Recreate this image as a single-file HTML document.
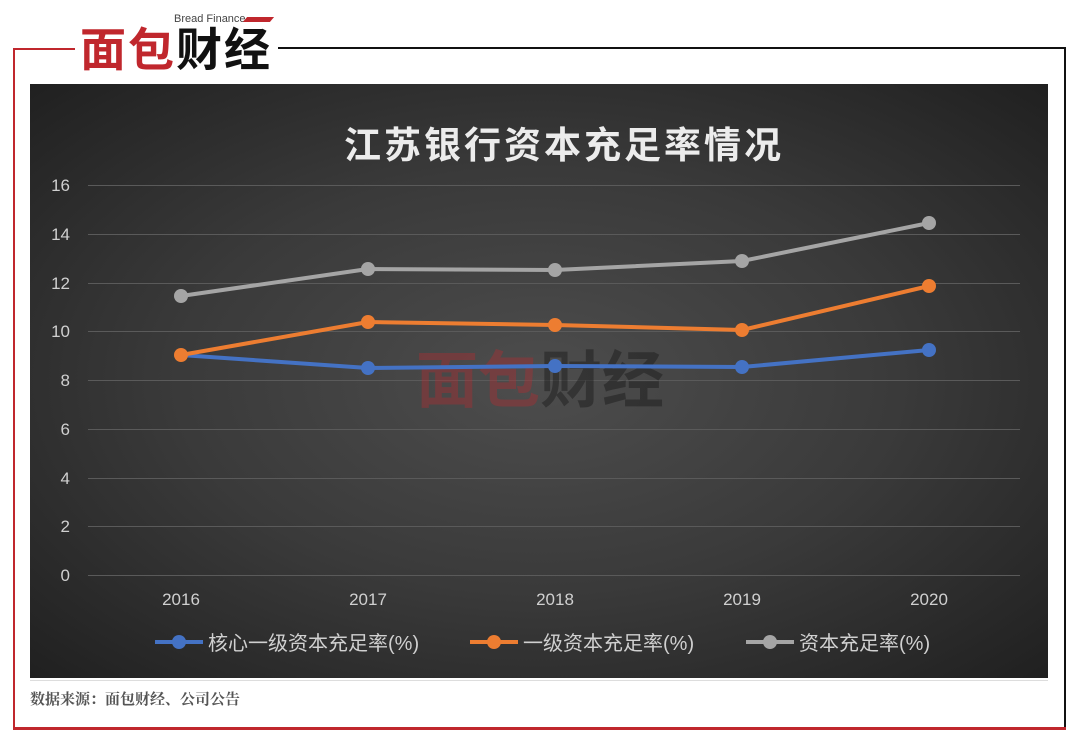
<!DOCTYPE html>
<html><head><meta charset="utf-8"><style>
body{margin:0;width:1080px;height:740px;background:#fff;position:relative;overflow:hidden;font-family:"Liberation Sans","Noto Sans CJK SC",sans-serif}
.a{position:absolute}
</style></head><body>
<div class="a" style="left:13px;top:48px;width:2px;height:681px;background:#c0272d"></div>
<div class="a" style="left:13px;top:48px;width:62px;height:2px;background:#c0272d"></div>
<div class="a" style="left:278px;top:47px;width:788px;height:2px;background:#111"></div>
<div class="a" style="left:1064px;top:47px;width:2px;height:682px;background:#111"></div>
<div class="a" style="left:13px;top:727px;width:1053px;height:3px;background:#c0272d"></div>
<div class="a" style="left:174px;top:13px;font-size:11px;color:#444">Bread Finance</div>
<div class="a" style="left:245px;top:17px;width:27px;height:5px;background:#c0272d;transform:skewX(-40deg)"></div>
<div class="a" style="left:80px;top:24px;font-size:46px;font-weight:bold;line-height:52px;letter-spacing:2px"><span style="color:#c0272d">面包</span><span style="color:#111">财经</span></div>
<div class="a" style="left:30px;top:84px;width:1018px;height:594px;background:radial-gradient(ellipse at 50% 50%,#4d4d4d 0%,#3a3a3a 50%,#202020 100%)"></div>
<div class="a" style="left:30px;top:680px;width:1018px;height:1px;background:#ddd"></div>
<div class="a" style="left:30px;top:688px;font-size:15px;font-weight:bold;color:#555;font-family:'Noto Serif CJK SC',serif">数据来源：面包财经、公司公告</div>
<svg class="a" style="left:0;top:0" width="1080" height="740">
<text x="564" y="158" fill="#ececec" font-size="37" font-weight="bold" text-anchor="middle" font-family="Liberation Sans,Noto Sans CJK SC,sans-serif" letter-spacing="3">江苏银行资本充足率情况</text>
<g stroke="#5a5a5a" stroke-width="1">
<line x1="88" x2="1020" y1="185.5" y2="185.5"/><line x1="88" x2="1020" y1="234.5" y2="234.5"/><line x1="88" x2="1020" y1="283.5" y2="283.5"/><line x1="88" x2="1020" y1="331.5" y2="331.5"/><line x1="88" x2="1020" y1="380.5" y2="380.5"/><line x1="88" x2="1020" y1="429.5" y2="429.5"/><line x1="88" x2="1020" y1="478.5" y2="478.5"/><line x1="88" x2="1020" y1="526.5" y2="526.5"/><line x1="88" x2="1020" y1="575.5" y2="575.5"/>
</g>
<g fill="#d0d0d0" font-size="17" text-anchor="end">
<text x="70" y="191">16</text><text x="70" y="240">14</text><text x="70" y="289">12</text><text x="70" y="337">10</text><text x="70" y="386">8</text><text x="70" y="435">6</text><text x="70" y="484">4</text><text x="70" y="532">2</text><text x="70" y="581">0</text>
</g>
<g fill="#d0d0d0" font-size="17" text-anchor="middle">
<text x="181" y="605">2016</text><text x="368" y="605">2017</text><text x="555" y="605">2018</text><text x="742" y="605">2019</text><text x="929" y="605">2020</text>
</g>
<text x="540" y="402" fill="#c0272d" fill-opacity="0.35" font-size="62" font-weight="bold" text-anchor="middle" font-family="Noto Sans CJK SC,sans-serif">面包<tspan fill="#111" fill-opacity="0.4">财经</tspan></text>
<g stroke-width="4" fill="none" stroke-linejoin="round">
<polyline stroke="#4472c4" points="181,355 368,368 555,366 742,367 929,350"/>
<polyline stroke="#ed7d31" points="181,355 368,322 555,325 742,330 929,286"/>
<polyline stroke="#a5a5a5" points="181,296 368,269 555,270 742,261 929,223"/>
</g>
<g fill="#4472c4"><circle cx="368" cy="368" r="7"/><circle cx="555" cy="366" r="7"/><circle cx="742" cy="367" r="7"/><circle cx="929" cy="350" r="7"/></g>
<g fill="#ed7d31"><circle cx="181" cy="355" r="7"/><circle cx="368" cy="322" r="7"/><circle cx="555" cy="325" r="7"/><circle cx="742" cy="330" r="7"/><circle cx="929" cy="286" r="7"/></g>
<g fill="#a5a5a5"><circle cx="181" cy="296" r="7"/><circle cx="368" cy="269" r="7"/><circle cx="555" cy="270" r="7"/><circle cx="742" cy="261" r="7"/><circle cx="929" cy="223" r="7"/></g>
<g stroke-width="4"><line x1="155" x2="203" y1="642" y2="642" stroke="#4472c4"/><line x1="470" x2="518" y1="642" y2="642" stroke="#ed7d31"/><line x1="746" x2="794" y1="642" y2="642" stroke="#a5a5a5"/></g>
<circle cx="179" cy="642" r="7" fill="#4472c4"/><circle cx="494" cy="642" r="7" fill="#ed7d31"/><circle cx="770" cy="642" r="7" fill="#a5a5a5"/>
<g fill="#d0d0d0" font-size="20"><text x="208" y="650">核心一级资本充足率(%)</text><text x="523" y="650">一级资本充足率(%)</text><text x="799" y="650">资本充足率(%)</text></g>
</svg>
</body></html>
